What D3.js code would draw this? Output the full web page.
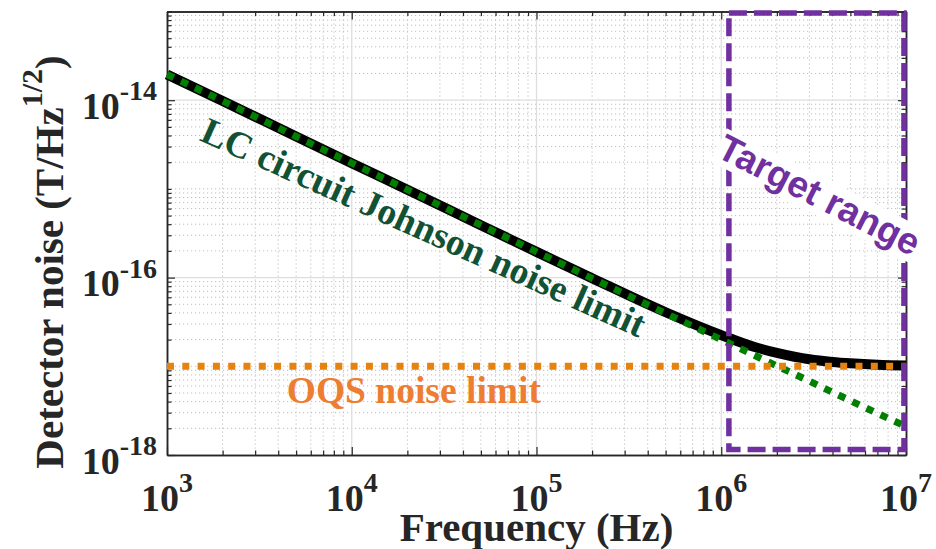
<!DOCTYPE html>
<html>
<head>
<meta charset="utf-8">
<script src="https://cdn.jsdelivr.net/npm/d3@7"></script>
<style>
body { margin: 0; background: #fff; }
svg text { font-family: "Liberation Serif", "Times New Roman", serif; font-weight: bold; }
</style>
</head>
<body>
<div id="chart"></div>
<script>
// values
const freq    = [1e3, 2e3, 5e3, 1e4, 2e4, 5e4, 1e5, 2e5, 5e5, 1e6, 1.5e6, 2e6, 3e6, 4e6, 5e6, 7e6, 1e7];
const johnson = [1.95e-14, 9.8e-15, 3.9e-15, 1.95e-15, 9.8e-16, 3.9e-16, 1.95e-16, 9.8e-17, 3.95e-17,
                 2.0e-17, 1.34e-17, 1.01e-17, 6.8e-18, 5.1e-18, 4.1e-18, 2.95e-18, 2.1e-18];
const total   = [1.95e-14, 9.8e-15, 3.9e-15, 1.95e-15, 9.8e-16, 3.9e-16, 1.95e-16, 9.85e-17, 4.07e-17,
                 2.25e-17, 1.66e-17, 1.42e-17, 1.2e-17, 1.12e-17, 1.08e-17, 1.04e-17, 1.02e-17];
const oqsFreq  = [1e3, 1e7];
const oqsLevel = [1e-17, 1e-17];
const targetFreq  = [1.1e6, 9.75e6];
const targetNoise = [1.15e-18, 9.6e-14];

const xTicks   = [1e3, 1e4, 1e5, 1e6, 1e7];
const xTickExp = ["3", "4", "5", "6", "7"];
const yTicks   = [1e-18, 1e-16, 1e-14];
const yTickExp = ["-18", "-16", "-14"];

// annotation anchors (data units)
const lcLabelAt     = [1.48e3, 3.55e-15];
const oqsLabelAt    = [4.45e3, 3.85e-18];
const targetLabelAt = [3.4e6, 8.6e-16];

const W = 936, H = 549;
const plot = {left: 167, right: 906, top: 11.5, bottom: 455};

const svg = d3.select("#chart").append("svg")
	.attr("width", W)
	.attr("height", H);

const x = d3.scaleLog().domain([1e3, 1e7]).range([plot.left, plot.right]);
const y = d3.scaleLog().domain([1e-18, 1e-13]).range([plot.bottom, plot.top]);

// minor positions: every 1..9 x decade that is not a labelled tick
var xMinor = [], yMinor = [];
for (let k = 3; k < 7; k++)
	for (let m = 2; m <= 9; m++) xMinor.push(m * Math.pow(10, k));
for (let k = -18; k < -13; k++)
	for (let m = 1; m <= 9; m++) {
		var v = m * Math.pow(10, k);
		if (!(m === 1 && k % 2 === 0)) yMinor.push(v);
	}
yMinor.push(1e-13);

// grid
var grid = svg.append("g");
grid.selectAll(".gx-minor").data(xMinor).join("line")
	.attr("x1", d => x(d)).attr("x2", d => x(d))
	.attr("y1", plot.top).attr("y2", plot.bottom)
	.attr("stroke", "#bdbdbd").attr("stroke-width", 1)
	.attr("stroke-dasharray", "1.2,2.8");
grid.selectAll(".gy-minor").data(yMinor).join("line")
	.attr("y1", d => y(d)).attr("y2", d => y(d))
	.attr("x1", plot.left).attr("x2", plot.right)
	.attr("stroke", "#bdbdbd").attr("stroke-width", 1)
	.attr("stroke-dasharray", "1.2,2.8");
grid.selectAll(".gx-major").data(xTicks.slice(1, -1)).join("line")
	.attr("x1", d => x(d)).attr("x2", d => x(d))
	.attr("y1", plot.top).attr("y2", plot.bottom)
	.attr("stroke", "#dedede").attr("stroke-width", 1.3);
grid.selectAll(".gy-major").data(yTicks.slice(1)).join("line")
	.attr("y1", d => y(d)).attr("y2", d => y(d))
	.attr("x1", plot.left).attr("x2", plot.right)
	.attr("stroke", "#dedede").attr("stroke-width", 1.3);

// axes with inward ticks on all four sides
function styleAxis(g) {
	g.select(".domain").attr("stroke", "#262626").attr("stroke-width", 1.5);
	g.selectAll(".tick line").attr("stroke", "#262626").attr("stroke-width", 1.2);
	g.selectAll(".tick text").remove();
}
function addAxis(axisFn, scale, values, size, transform) {
	svg.append("g")
		.attr("transform", transform)
		.call(axisFn(scale).tickValues(values).tickSize(-size).tickSizeOuter(0).tickFormat(""))
		.call(styleAxis);
}
addAxis(d3.axisBottom, x, xTicks, 8, "translate(0," + plot.bottom + ")");
addAxis(d3.axisBottom, x, xMinor, 4.5, "translate(0," + plot.bottom + ")");
addAxis(d3.axisTop, x, xTicks, 8, "translate(0," + plot.top + ")");
addAxis(d3.axisTop, x, xMinor, 4.5, "translate(0," + plot.top + ")");
addAxis(d3.axisLeft, y, yTicks, 8, "translate(" + plot.left + ",0)");
addAxis(d3.axisLeft, y, yMinor, 4.5, "translate(" + plot.left + ",0)");
addAxis(d3.axisRight, y, yTicks, 8, "translate(" + plot.right + ",0)");
addAxis(d3.axisRight, y, yMinor, 4.5, "translate(" + plot.right + ",0)");

// tick labels 10^n
svg.selectAll(".xlab").data(xTicks).join("text")
	.attr("class", "xlab")
	.attr("x", d => x(d))
	.attr("y", plot.bottom + 56)
	.attr("text-anchor", "middle")
	.attr("fill", "#262626")
	.attr("font-size", 38)
	.each(function(d, i) {
		var t = d3.select(this);
		t.append("tspan").text("10");
		t.append("tspan").attr("dy", -19).attr("font-size", 28).text(xTickExp[i]);
	});

svg.selectAll(".ylab").data(yTicks).join("text")
	.attr("class", "ylab")
	.attr("x", plot.left - 10)
	.attr("y", d => y(d) + 18.5)
	.attr("text-anchor", "end")
	.attr("fill", "#262626")
	.attr("font-size", 38)
	.each(function(d, i) {
		var t = d3.select(this);
		t.append("tspan").text("10");
		t.append("tspan").attr("dy", -18.5).attr("font-size", 28).text(yTickExp[i]);
	});

// axis titles
svg.append("text")
	.attr("x", (plot.left + plot.right) / 2)
	.attr("y", 541)
	.attr("text-anchor", "middle")
	.attr("fill", "#262626")
	.attr("font-size", 41)
	.text("Frequency (Hz)");

var yt = svg.append("text")
	.attr("transform", "translate(63,262) rotate(-90)")
	.attr("text-anchor", "middle")
	.attr("fill", "#262626")
	.attr("font-size", 41);
yt.append("tspan").text("Detector noise (T/Hz");
yt.append("tspan").attr("dy", -21).attr("font-size", 30).text("1/2");
yt.append("tspan").attr("dy", 21).text(")");

// curves
var line = d3.line()
	.x(d => x(d[0]))
	.y(d => y(d[1]))
	.curve(d3.curveMonotoneX);

svg.append("path")
	.datum(d3.zip(freq, total))
	.attr("fill", "none")
	.attr("stroke", "#000")
	.attr("stroke-width", 10)
	.attr("d", line);

svg.append("path")
	.datum(d3.zip(freq, johnson))
	.attr("fill", "none")
	.attr("stroke", "#007f00")
	.attr("stroke-width", 7)
	.attr("stroke-dasharray", "7.5,8")
	.attr("d", line);

svg.append("path")
	.datum(d3.zip(oqsFreq, oqsLevel))
	.attr("fill", "none")
	.attr("stroke", "#e6820e")
	.attr("stroke-width", 7)
	.attr("stroke-dasharray", "7,8.3")
	.attr("d", line);

// target range box
svg.append("rect")
	.attr("x", x(targetFreq[0]))
	.attr("y", y(targetNoise[1]))
	.attr("width", x(targetFreq[1]) - x(targetFreq[0]))
	.attr("height", y(targetNoise[0]) - y(targetNoise[1]))
	.attr("fill", "none")
	.attr("stroke", "#7030a0")
	.attr("stroke-width", 5.5)
	.attr("stroke-dasharray", "18,7");

// annotations
svg.append("text")
	.attr("transform", "translate(" + x(lcLabelAt[0]) + "," + y(lcLabelAt[1]) + ") rotate(24.2)")
	.attr("fill", "#125234")
	.attr("font-size", 37.5)
	.text("LC circuit Johnson noise limit");

svg.append("text")
	.attr("x", x(oqsLabelAt[0]))
	.attr("y", y(oqsLabelAt[1]))
	.attr("fill", "#ed7d31")
	.attr("font-size", 37.5)
	.text("OQS noise limit");

var tg = svg.append("g")
	.attr("transform", "translate(" + x(targetLabelAt[0]) + "," + y(targetLabelAt[1]) + ") rotate(27)");
var tt = tg.append("text")
	.attr("text-anchor", "middle")
	.attr("dy", "0.35em")
	.attr("fill", "#7030a0")
	.attr("font-size", 37)
	.style("font-family", "'Liberation Sans', Arial, sans-serif")
	.text("Target range");
var bb = tt.node().getBBox();
tg.insert("rect", "text")
	.attr("x", bb.x - 2)
	.attr("y", bb.y + 3)
	.attr("width", bb.width + 4)
	.attr("height", bb.height - 4)
	.attr("fill", "#fff");
</script>
</body>
</html>
